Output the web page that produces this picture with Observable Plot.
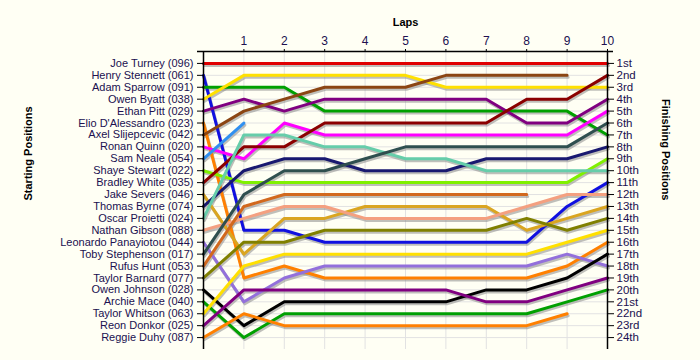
<!DOCTYPE html>
<html>
<head>
<meta charset="utf-8">
<script src="https://cdn.jsdelivr.net/npm/d3@7"></script>
<script src="https://cdn.jsdelivr.net/npm/@observablehq/plot@0.6"></script>
<style>
  html, body { margin: 0; padding: 0; background: #fffff4; }
  #chart { width: 700px; height: 360px; }
</style>
</head>
<body>
<div id="chart"></div>
<script>
// Drivers in starting order
const drivers = [
  "Joe Turney (096)", "Henry Stennett (061)", "Adam Sparrow (091)", "Owen Byatt (038)",
  "Ethan Pitt (029)", "Elio D'Alessandro (023)", "Axel Slijepcevic (042)", "Ronan Quinn (020)",
  "Sam Neale (054)", "Shaye Stewart (022)", "Bradley White (035)", "Jake Severs (046)",
  "Thomas Byrne (074)", "Oscar Proietti (024)", "Nathan Gibson (088)", "Leonardo Panayiotou (044)",
  "Toby Stephenson (017)", "Rufus Hunt (053)", "Taylor Barnard (077)", "Owen Johnson (028)",
  "Archie Mace (040)", "Taylor Whitson (063)", "Reon Donkor (025)", "Reggie Duhy (087)"
];

const lineColors = [
  "#e00000", "#1010e0", "#00a000", "#ffe000",
  "#800080", "#ff8000", "#8b4513", "#ff00ff",
  "#3090f0", "#80f000", "#8b0000", "#daa520",
  "#191970", "#66cdaa", "#f4a080", "#9370db",
  "#2f4f4f", "#d2691e", "#808000", "#000000",
  "#00a000", "#ffe000", "#800080", "#ff8000"
];

// Position at laps 0..10 (shorter list = retired)
const lapPositions = [
  [1, 1, 1, 1, 1, 1, 1, 1, 1, 1, 1],
  [2, 15, 15, 16, 16, 16, 16, 16, 16, 13, 11],
  [3, 3, 3, 5, 5, 5, 5, 5, 5, 5, 7],
  [4, 2, 2, 2, 2, 2, 3, 3, 3, 3, 3],
  [5, 4, 5, 4, 4, 4, 4, 4, 6, 6, 4],
  [6, 19, 18, 19, 19, 19, 19, 19, 19, 18, 16],
  [7, 5, 4, 3, 3, 3, 2, 2, 2, 2],
  [8, 9, 6, 7, 7, 7, 7, 7, 7, 7, 5],
  [9, 6],
  [10, 11, 11, 11, 11, 11, 11, 11, 11, 11, 9],
  [11, 8, 8, 6, 6, 6, 6, 6, 4, 4, 2],
  [12, 17, 14, 14, 13, 13, 13, 13, 15, 14, 13],
  [13, 10, 9, 9, 10, 10, 10, 9, 9, 9, 8],
  [14, 7, 7, 8, 8, 9, 9, 10, 10, 10, 10],
  [15, 14, 13, 13, 14, 14, 14, 14, 13, 12, 12],
  [16, 21, 19, 18, 18, 18, 18, 18, 18, 17, 18],
  [17, 12, 10, 10, 9, 8, 8, 8, 8, 8, 6],
  [18, 13, 12, 12, 12, 12, 12, 12, 12],
  [19, 16, 16, 15, 15, 15, 15, 15, 14, 15, 14],
  [20, 23, 21, 21, 21, 21, 21, 20, 20, 19, 17],
  [21, 24, 22, 22, 22, 22, 22, 22, 22, 21, 20],
  [22, 18, 17, 17, 17, 17, 17, 17, 17, 16, 15],
  [23, 20, 20, 20, 20, 20, 20, 21, 21, 20, 19],
  [24, 22, 23, 23, 23, 23, 23, 23, 23, 22]
];

const lapTicks = [1, 2, 3, 4, 5, 6, 7, 8, 9, 10];
const finishLabels = [
  "1st", "2nd", "3rd", "4th", "5th", "6th", "7th", "8th", "9th", "10th", "11th", "12th",
  "13th", "14th", "15th", "16th", "17th", "18th", "19th", "20th", "21st", "22nd", "23rd", "24th"
];

const rows = [];
lapPositions.forEach((ps, i) => {
  ps.forEach((p, lap) => rows.push({driver: drivers[i], idx: i, lap, pos: p, color: lineColors[i]}));
});
const positions = d3.range(1, 25);
const textColor = "#201050";

const chart = Plot.plot({
  width: 700,
  height: 360,
  marginLeft: 203,
  marginRight: 93,
  marginTop: 51,
  marginBottom: 11,
  style: {fontFamily: "Liberation Sans, Arial, sans-serif", background: "#fffff4", overflow: "visible"},
  x: {domain: [0, 10]},
  y: {domain: [0, 25], reverse: true},
  marks: [
    Plot.gridX(d3.range(1, 10), {stroke: "#e2e2e2", strokeOpacity: 1}),
    Plot.gridY(positions, {stroke: "#e2e2e2", strokeOpacity: 1}),
    Plot.line(rows, {x: "lap", y: "pos", z: "driver", stroke: "#8a8a8a", strokeOpacity: 0.55, strokeWidth: 3, dx: 1, dy: 2}),
    Plot.line(rows, {x: "lap", y: "pos", z: "driver", stroke: "color", strokeWidth: 3}),
    Plot.ruleY([0], {stroke: "#000", strokeWidth: 1.5, insetLeft: -6, insetRight: -6}),
    Plot.ruleX([0], {stroke: "#000", strokeWidth: 1.5}),
    Plot.ruleX([10], {stroke: "#000", strokeWidth: 1.5}),
    Plot.axisX(lapTicks, {anchor: "top", tickSize: 3, tickPadding: 4, fontSize: 12, fill: textColor, label: null}),
    Plot.axisY(positions, {anchor: "left", tickSize: 6, tickPadding: 4, fontSize: 11, fill: textColor,
      tickFormat: p => drivers[p - 1], label: null}),
    Plot.axisY(positions, {anchor: "right", tickSize: 6, tickPadding: 3, fontSize: 11.5, fill: textColor,
      tickFormat: p => finishLabels[p - 1], label: null}),
    Plot.text(["Laps"], {frameAnchor: "top", dy: -33, fontWeight: "bold", fontSize: 11, fill: "#000"}),
    Plot.text(["Starting Positions"], {frameAnchor: "left", dx: -175, rotate: -90, fontWeight: "bold", fontSize: 11, fill: "#000"}),
    Plot.text(["Finishing Positions"], {frameAnchor: "right", dx: 58, rotate: 90, fontWeight: "bold", fontSize: 11, fill: "#000"})
  ]
});
document.getElementById("chart").appendChild(chart);
</script>
</body>
</html>
